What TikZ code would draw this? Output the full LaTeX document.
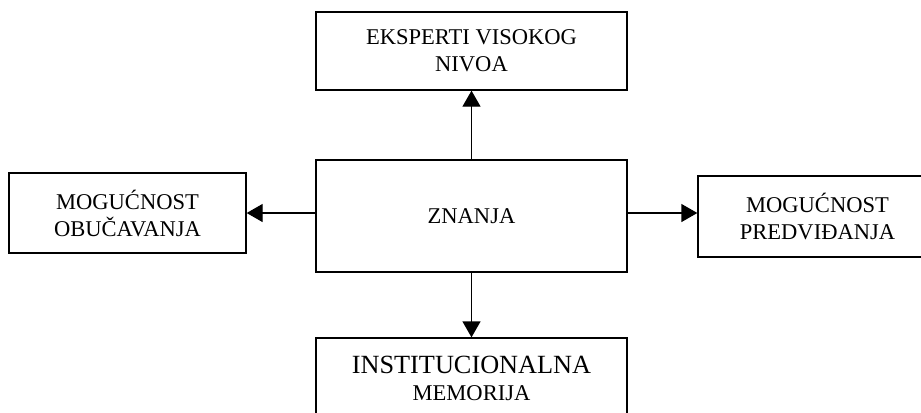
\documentclass[tikz,border=0pt]{standalone}
\usepackage{fontspec}
\setmainfont{Liberation Serif}
\usetikzlibrary{arrows.meta}
\begin{document}
\begin{tikzpicture}[x=0.75pt,y=-0.75pt,
  box/.style={draw,line width=1pt,rectangle,align=center,inner sep=0pt,
    font=\fontsize{16.9}{20.25}\selectfont},
  arr/.style={line width=1pt,-{Triangle[length=12pt,width=13.5pt]}}]
\useasboundingbox (0,0) rectangle (921,412);
% boxes
\node[box,minimum width=233.25pt,minimum height=58.5pt] (top) at (471.5,51) {EKSPERTI VISOKOG\\NIVOA};
\node[box,minimum width=233.25pt,minimum height=84pt] (mid) at (471.5,216) {ZNANJA};
\node[box,minimum width=177.75pt,minimum height=60pt] (left) at (127.5,213) {MOGUĆNOST\\OBUČAVANJA};
\node[box,minimum width=179.25pt,minimum height=60.75pt] (right) at (817.5,216.5) {MOGUĆNOST\\PREDVIĐANJA};
\node[box,minimum width=233.25pt,minimum height=60pt] (bottom) at (471.5,378)
  {{\fontsize{19.7}{20.25}\selectfont INSTITUCIONALNA}\\MEMORIJA};
% connectors
\draw[arr] (mid.north) -- (top.south);
\draw[arr] (mid.south) -- (bottom.north);
\draw[arr] (mid.west |- left.east) -- (left.east);
\draw[arr] (mid.east |- left.east) -- (right.west |- left.east);
\end{tikzpicture}
\end{document}
